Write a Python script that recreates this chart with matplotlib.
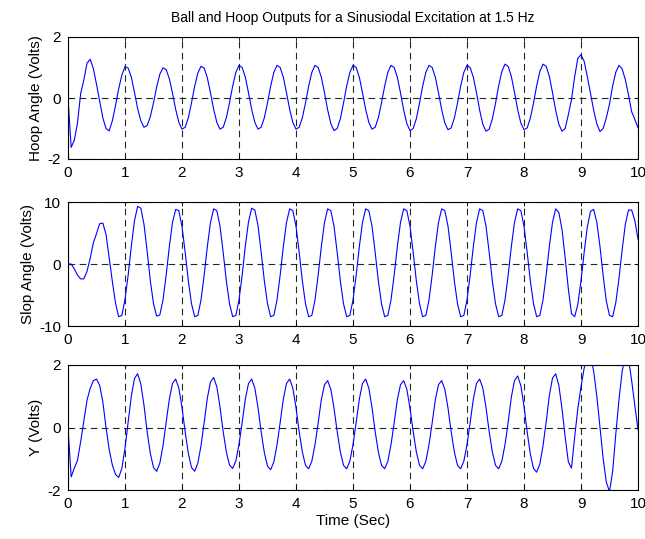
import numpy as np
import matplotlib
matplotlib.use("Agg")
import matplotlib.pyplot as plt

plt.rcParams['font.family'] = ['Liberation Sans', 'DejaVu Sans']
plt.rcParams['axes.unicode_minus'] = False

# Sample times (s): 181 samples over 0..10 s
time_s = np.arange(181) / 18.0

hoop_angle = [
    0.0, -1.62, -1.38, -0.82, 0.15, 0.59, 1.14, 1.27, 0.97, 0.45, -0.1, -0.65, -1.0,
    -1.08, -0.75, -0.25, 0.3, 0.75, 1.03, 0.98, 0.68, 0.18, -0.35, -0.75, -0.96,
    -0.90, -0.61, -0.16, 0.36, 0.78, 0.99, 0.93, 0.63, 0.16, -0.37, -0.80, -1.02,
    -0.96, -0.65, -0.16, 0.38, 0.82, 1.04, 0.98, 0.66, 0.17, -0.37, -0.80, -1.02,
    -0.96, -0.65, -0.16, 0.39, 0.84, 1.07, 1.0, 0.68, 0.17, -0.37, -0.80, -1.02,
    -0.96, -0.65, -0.16, 0.39, 0.84, 1.07, 1.0, 0.68, 0.17, -0.37, -0.80, -1.02,
    -0.96, -0.65, -0.16, 0.39, 0.84, 1.07, 1.0, 0.68, 0.17, -0.39, -0.84, -1.07,
    -1.0, -0.68, -0.17, 0.39, 0.84, 1.07, 1.0, 0.68, 0.17, -0.37, -0.80, -1.02,
    -0.96, -0.65, -0.16, 0.39, 0.84, 1.07, 1.0, 0.68, 0.17, -0.39, -0.84, -1.07,
    -1.0, -0.68, -0.17, 0.39, 0.84, 1.07, 1.0, 0.68, 0.17, -0.38, -0.82, -1.04,
    -0.98, -0.66, -0.17, 0.39, 0.84, 1.07, 1.0, 0.68, 0.17, -0.40, -0.86, -1.09,
    -1.02, -0.69, -0.18, 0.40, 0.87, 1.11, 1.04, 0.71, 0.18, -0.38, -0.82, -1.04,
    -0.98, -0.66, -0.17, 0.40, 0.87, 1.11, 1.04, 0.71, 0.18, -0.40, -0.86, -1.09,
    -1.0, -0.55, -0.05, 0.7, 1.3, 1.42, 1.2, 0.7, 0.15, -0.4, -0.85, -1.1,
    -1.0, -0.65, -0.2, 0.4, 0.85, 1.07, 0.95, 0.6, 0.1, -0.45, -0.7, -0.97,
]

slop_angle = [
    0.0, 0.0, -0.8, -1.8, -2.4, -2.4, -1.2, 0.9, 3.4, 4.9, 6.5, 6.6, 4.8, 1.0, -2.8, -6.3, -8.5,
    -8.3, -5.7, -1.8, 2.9, 7.0, 9.3, 9.0, 6.4, 2.0, -2.7, -6.4, -8.4,
    -8.2, -5.8, -1.8, 2.8, 6.7, 8.8, 8.6, 6.0, 1.9, -2.7, -6.4, -8.5,
    -8.3, -5.8, -1.8, 2.8, 6.7, 8.9, 8.6, 6.1, 1.9, -2.7, -6.4, -8.5,
    -8.3, -5.8, -1.8, 2.9, 6.8, 9.0, 8.7, 6.2, 1.9, -2.7, -6.4, -8.5,
    -8.3, -5.8, -1.8, 2.8, 6.7, 8.9, 8.6, 6.1, 1.9, -2.7, -6.4, -8.5,
    -8.3, -5.8, -1.8, 2.8, 6.7, 8.9, 8.6, 6.1, 1.9, -2.7, -6.4, -8.5,
    -8.3, -5.8, -1.8, 2.8, 6.7, 8.9, 8.6, 6.1, 1.9, -2.7, -6.4, -8.5,
    -8.3, -5.8, -1.8, 2.8, 6.7, 8.9, 8.6, 6.1, 1.9, -2.7, -6.4, -8.5,
    -8.3, -5.8, -1.8, 2.8, 6.7, 8.9, 8.6, 6.1, 1.9, -2.7, -6.4, -8.5,
    -8.3, -5.8, -1.8, 2.8, 6.7, 8.9, 8.6, 6.1, 1.9, -2.7, -6.4, -8.5,
    -8.3, -5.8, -1.8, 2.8, 6.7, 8.9, 8.6, 6.1, 1.9, -2.7, -6.4, -8.5,
    -8.3, -5.8, -1.8, 2.8, 6.7, 8.9, 8.3, 5.6,
    1.0, -4.0, -8.0, -8.5, -6.5, -2.7, 1.9, 6.0, 8.5, 8.8, 6.7, 2.8,
    -1.9, -6.0, -8.3, -8.5, -6.2, -2.3, 2.3, 6.4, 8.7, 8.7, 7.0, 4.0,
]

y_out = [
    0.0, -1.58, -1.3, -1.05, -0.45, 0.2, 0.87, 1.25, 1.5, 1.55, 1.35, 0.82, 0.0, -0.7, -1.2, -1.5,
    -1.6, -1.31, -0.66, 0.17, 1.01, 1.57, 1.72, 1.39, 0.71, -0.14, -0.83, -1.28,
    -1.40, -1.14, -0.58, 0.16, 0.91, 1.41, 1.55, 1.26, 0.64, -0.14, -0.83, -1.28,
    -1.40, -1.14, -0.58, 0.16, 0.94, 1.46, 1.6, 1.30, 0.66, -0.13, -0.78, -1.20,
    -1.31, -1.07, -0.54, 0.16, 0.91, 1.41, 1.55, 1.26, 0.64, -0.14, -0.80, -1.24,
    -1.35, -1.10, -0.56, 0.16, 0.91, 1.41, 1.55, 1.26, 0.64, -0.13, -0.78, -1.21,
    -1.32, -1.08, -0.55, 0.15, 0.89, 1.37, 1.5, 1.22, 0.62, -0.13, -0.78, -1.21,
    -1.32, -1.08, -0.55, 0.16, 0.91, 1.41, 1.55, 1.26, 0.64, -0.13, -0.78, -1.21,
    -1.32, -1.08, -0.55, 0.15, 0.89, 1.37, 1.5, 1.22, 0.62, -0.13, -0.78, -1.21,
    -1.32, -1.08, -0.55, 0.15, 0.89, 1.37, 1.5, 1.22, 0.62, -0.13, -0.78, -1.21,
    -1.32, -1.08, -0.55, 0.16, 0.91, 1.41, 1.55, 1.26, 0.64, -0.13, -0.78, -1.21,
    -1.32, -1.08, -0.55, 0.17, 0.97, 1.50, 1.65, 1.34, 0.68, -0.14, -0.85, -1.31,
    -1.43, -1.17, -0.59, 0.18, 1.02, 1.58, 1.72, 1.35, 0.6, -0.3, -1.1, -1.3,
    -0.3, 0.6, 1.3, 1.9, 2.25, 2.3, 1.8, 1.0, 0.0, -1.0, -1.75, -2.05,
    -1.4, -0.2, 0.9, 1.8, 2.3, 2.2, 1.5, 0.7, -0.07,
]

x_ticks = [0, 1, 2, 3, 4, 5, 6, 7, 8, 9, 10]
series = [hoop_angle, slop_angle, y_out]
y_labels = ["Hoop Angle (Volts)", "Slop Angle (Volts)", "Y (Volts)"]
y_limits = [(-2, 2), (-10, 10), (-2, 2)]
y_ticks = [[-2, 0, 2], [-10, 0, 10], [-2, 0, 2]]
title = "Ball and Hoop Outputs for a Sinusiodal Excitation at 1.5 Hz"
x_label = "Time (Sec)"

W, H = 645, 539
fig = plt.figure(figsize=(W / 100, H / 100), dpi=100)
rows = [(37, 159), (202, 326), (365, 490)]
left, right = 68, 638
FS = 11

for i, (top, bot) in enumerate(rows):
    ax = fig.add_axes([left / W, (H - bot) / H, (right - left) / W, (bot - top) / H])
    ax.plot(time_s, series[i], color=(0, 0, 1), lw=0.8)
    ax.set_xlim(0, 10)
    ax.set_ylim(*y_limits[i])
    ax.set_xticks(x_ticks)
    ax.set_yticks(y_ticks[i])
    ax.grid(True, color='0.15', linestyle=(0, (6, 4)), linewidth=0.8)
    ax.tick_params(direction='in', length=3, width=0.6, labelsize=FS,
                   top=True, right=True, pad=5)
    for s in ax.spines.values():
        s.set_linewidth(0.8)
    ax.set_ylabel(y_labels[i], fontsize=FS, labelpad=3)
    if i == 0:
        ax.set_title(title, fontsize=FS - 1, pad=11)
    if i == 2:
        ax.set_xlabel(x_label, fontsize=FS, labelpad=2)

fig.savefig("out.png", dpi=100)
